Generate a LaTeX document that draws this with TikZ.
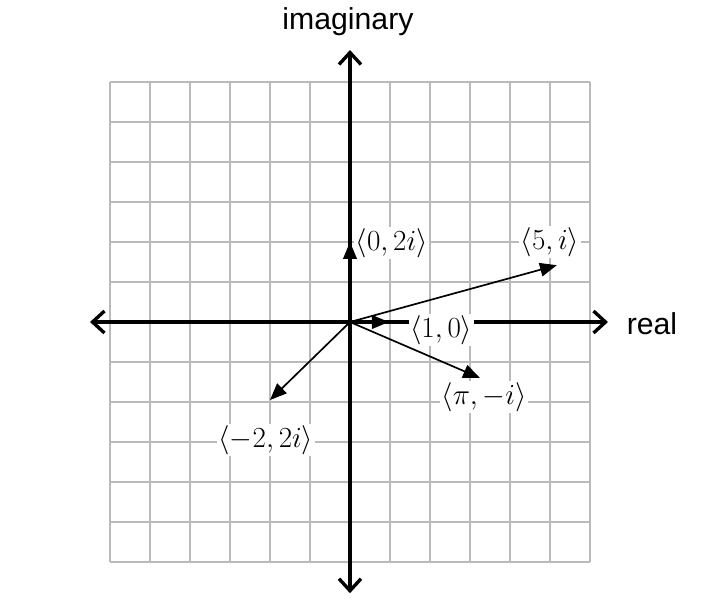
\documentclass[tikz,border=0pt]{standalone}
\usepackage[no-math]{fontspec}
\newfontfamily\axisfont{Liberation Sans}
\usetikzlibrary{arrows.meta}
\tikzset{
  gridline/.style={draw=black!27, line width=1.1pt},
  axisline/.style={line width=2.4pt, {Straight Barb[length=0.3cm,width=0.55cm]}-{Straight Barb[length=0.3cm,width=0.55cm]}},
  vec/.style={line width=1.2pt, -{Triangle[length=0.42cm,width=0.34cm]}},
  vlabel/.style={fill=white, inner sep=1pt, font=\fontsize{19.5}{23}\selectfont},
  axlabel/.style={inner sep=0pt, font=\fontsize{21.5}{25}\selectfont\axisfont}
}
\begin{document}
\begin{tikzpicture}
\useasboundingbox (-8.75,-6.975) rectangle (9.175,8.05);
% grid
\draw[gridline] (-6,-6) grid (6,6);
% axes
\coordinate (O) at (0,0);
\coordinate (xl) at (-6.5,0);
\coordinate (xr) at (6.45,0);
\coordinate (yt) at (0,6.8);
\coordinate (yb) at (0,-6.78);
\draw[axisline] (xl) -- (xr);
\draw[axisline] (yb) -- (yt);
% axis labels
\node[axlabel] (im) at (-0.05,7.5) {imaginary};
\node[axlabel] (re) at (7.55,-0.05) {real};
% vector labels
\node[vlabel, anchor=west] (l02) at (0.1,1.98) {$\langle 0,2i\rangle$};
\node[vlabel] (l5i) at (5.0,2.0) {$\langle 5,i\rangle$};
\node[vlabel] (l10) at (2.28,-0.2) {$\langle 1,0\rangle$};
\node[vlabel] (lpi) at (3.35,-1.875) {$\langle \pi,-i\rangle$};
\node[vlabel] (lm2) at (-2.1,-2.95) {$\langle -2,2i\rangle$};
% vectors
\coordinate (t02) at (0,2);
\coordinate (t5i) at (5.17,1.42);
\coordinate (t10) at (0.97,0);
\coordinate (tpi) at (3.25,-1.4);
\coordinate (tm2) at (-2,-1.95);
\draw[vec] (O) -- (t02);
\draw[vec] (O) -- (t5i);
\draw[vec] (O) -- (t10);
\draw[vec] (O) -- (tpi);
\draw[vec] (O) -- (tm2);
\end{tikzpicture}
\end{document}
